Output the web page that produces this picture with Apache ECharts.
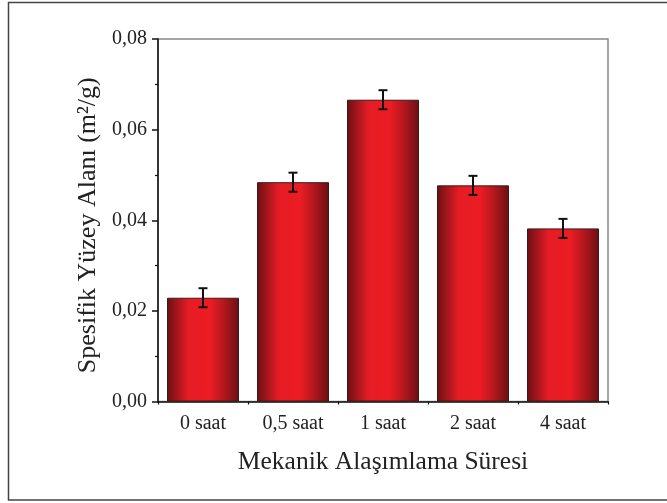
<!DOCTYPE html>
<html><head><meta charset="utf-8">
<script src="https://cdn.jsdelivr.net/npm/echarts@6/dist/echarts.min.js"></script>
<style>html,body{margin:0;padding:0;background:#fff}#c{width:667px;height:503px}</style>
</head><body><div id="c"></div>
<script>
const categories = ['0 saat', '0,5 saat', '1 saat', '2 saat', '4 saat'];
const values = [0.0229, 0.0484, 0.0666, 0.0477, 0.0382];
const errors = [0.0021, 0.0021, 0.0021, 0.0021, 0.0021];
const yTicks = [0, 0.02, 0.04, 0.06, 0.08];

const chart = echarts.init(document.getElementById('c'));
const barGrad = new echarts.graphic.LinearGradient(0, 0, 1, 0, [
  {offset: 0, color: '#6a1014'},
  {offset: 0.12, color: '#9c151b'},
  {offset: 0.3, color: '#e61c24'},
  {offset: 0.6, color: '#ec1c24'},
  {offset: 0.8, color: '#b0171d'},
  {offset: 1, color: '#6a1014'}
]);
const font = 'Liberation Serif';
chart.setOption({
  animation: false,
  graphic: [{type: 'rect', shape: {x: 8.5, y: 2.5, width: 700, height: 497.5},
    style: {fill: 'none', stroke: '#444', lineWidth: 1.5}, silent: true}],
  grid: {left: 158, right: 59, top: 39, bottom: 101.5, show: true, borderColor: '#888', borderWidth: 1.5},
  xAxis: [{
    type: 'category', data: categories, position: 'bottom',
    axisLine: {lineStyle: {color: '#111', width: 1.5}},
    axisTick: {alignWithLabel: true, length: 5, lineStyle: {color: '#111', width: 1.5}},
    axisLabel: {fontFamily: font, fontSize: 20, color: '#222', margin: 12},
    name: 'Mekanik Alaşımlama Süresi', nameLocation: 'middle', nameGap: 48,
    nameTextStyle: {fontFamily: font, fontSize: 25.5, color: '#222'}
  }, {
    type: 'category', data: categories, position: 'bottom',
    axisLine: {show: false},
    axisTick: {show: true, length: 3, interval: 0, lineStyle: {color: '#111', width: 1.2}},
    axisLabel: {show: false}
  }],
  yAxis: {
    type: 'value', min: 0, max: 0.08, interval: 0.02,
    axisLine: {show: true, lineStyle: {color: '#111', width: 1.5}},
    axisTick: {show: true, length: 6, lineStyle: {color: '#111', width: 1.5}},
    minorTick: {show: true, splitNumber: 2, length: 3, lineStyle: {color: '#111', width: 1.2}},
    splitLine: {show: false},
    axisLabel: {fontFamily: font, fontSize: 20, color: '#222', margin: 11,
      formatter: v => { const i = yTicks.findIndex(t => Math.abs(t - v) < 1e-9); return (i >= 0 ? yTicks[i] : v).toFixed(2).replace('.', ','); }},
    name: 'Spesifik Yüzey Alanı (m²/g)', nameLocation: 'middle', nameGap: 45,
    nameTextStyle: {fontFamily: font, fontSize: 26, color: '#222', padding: [0, 10, 0, 0]}
  },
  series: [{
    type: 'bar', data: values, barWidth: '80%',
    itemStyle: {color: barGrad, borderColor: '#3a1a1a', borderWidth: 1}
  }, {
    type: 'custom', data: values.map((v, i) => [i, v - errors[i], v + errors[i]]),
    renderItem: (params, api) => {
      const lo = api.coord([api.value(0), api.value(1)]);
      const hi = api.coord([api.value(0), api.value(2)]);
      const x = lo[0], hw = 4.5;
      const st = {stroke: '#111', lineWidth: 2, fill: 'none'};
      return {type: 'group', children: [
        {type: 'line', shape: {x1: x, y1: lo[1], x2: x, y2: hi[1]}, style: st},
        {type: 'line', shape: {x1: x - hw, y1: lo[1], x2: x + hw, y2: lo[1]}, style: st},
        {type: 'line', shape: {x1: x - hw, y1: hi[1], x2: x + hw, y2: hi[1]}, style: st}
      ]};
    }, z: 10
  }]
});
</script></body></html>
